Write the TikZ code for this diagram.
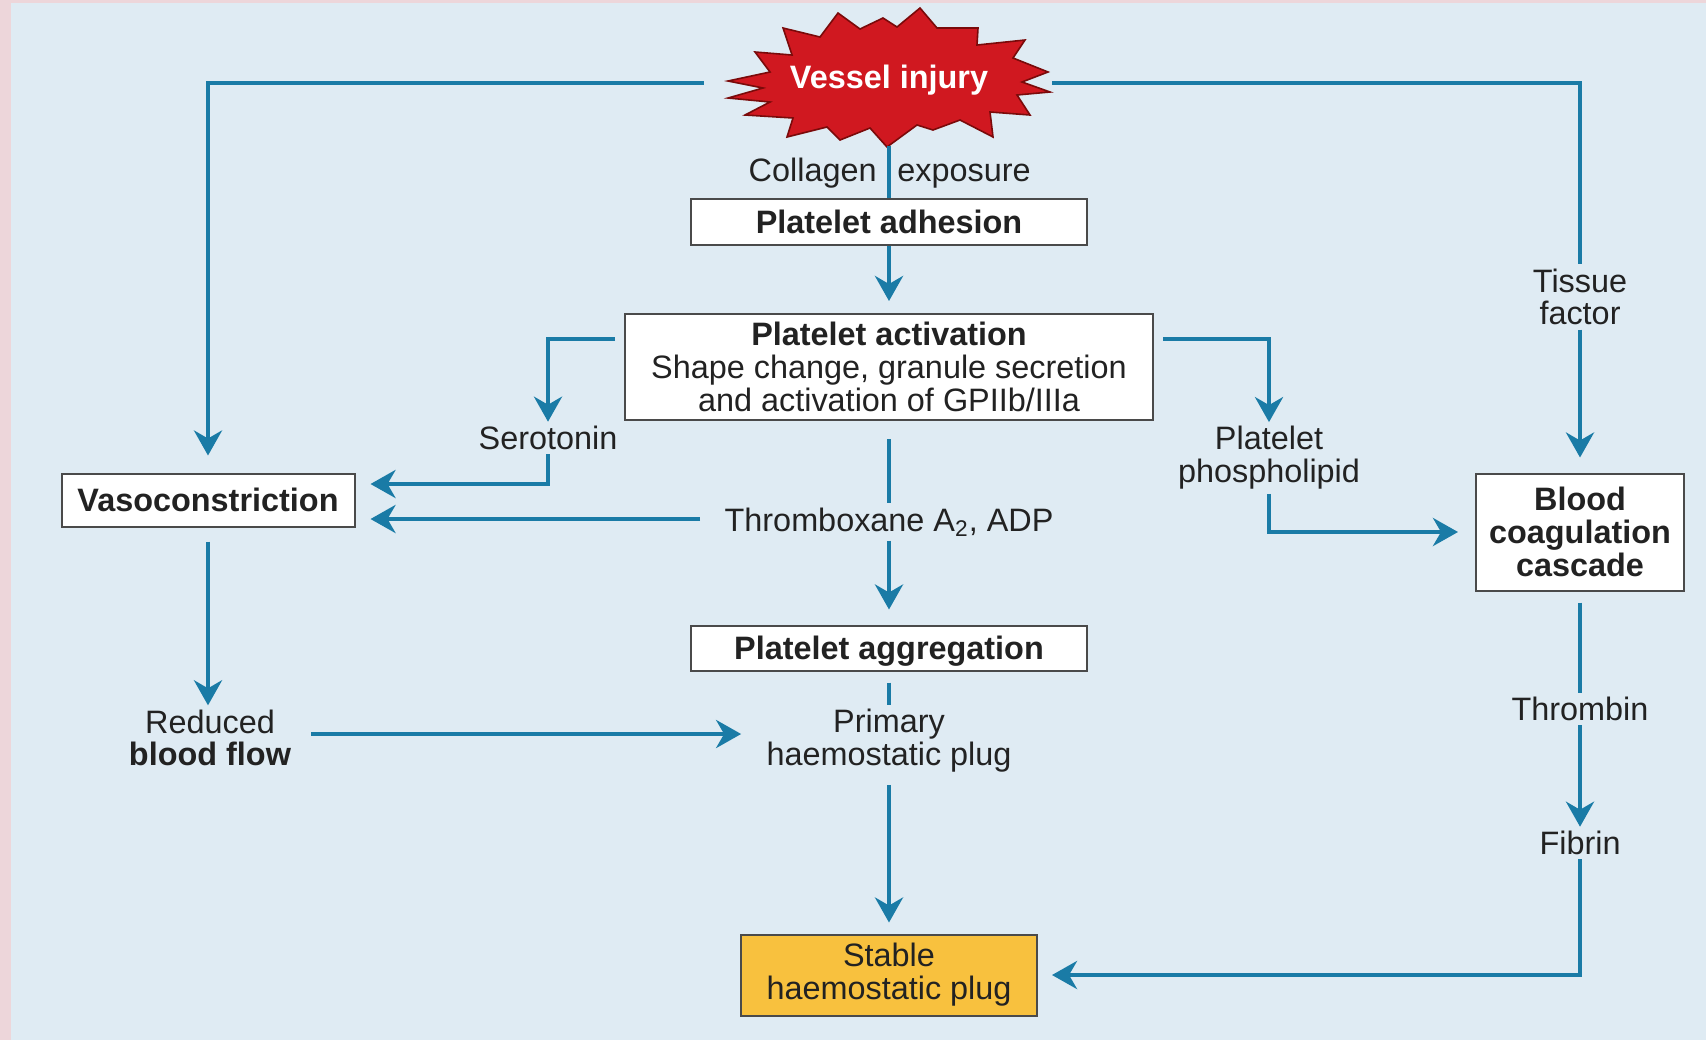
\documentclass[tikz,border=0pt]{standalone}
\usepackage{fontspec}
\setmainfont{Liberation Sans}
\usepackage{tikz}
\usetikzlibrary{arrows.meta}
\definecolor{flowblue}{HTML}{1A7BA6}
\definecolor{panelblue}{HTML}{DFEBF3}
\definecolor{edgepink}{HTML}{EDD6DA}
\definecolor{burstred}{HTML}{D01820}
\definecolor{burstdark}{HTML}{7A0A0A}
\definecolor{plugyellow}{HTML}{F8C13E}
\definecolor{inkgray}{HTML}{222222}
\definecolor{framegray}{HTML}{4A4A4A}

\begin{document}
\begin{tikzpicture} [
  x = 0.5pt, y = -0.5pt,
  every node/.style = { font = \fontsize{16.2}{16.4}\selectfont, text = inkgray, align = center },
  bold/.style = { font = \fontsize{16.2}{16.4}\selectfont\bfseries },
  stepbox/.style = { draw = framegray, line width = 1pt, fill = white, inner sep = 0 },
  tag/.style = { inner sep = 2pt },
  link/.style = { draw = flowblue, line width = 2.3pt },
  flow/.style = { link, -{Stealth[length = 12.5pt, width = 14pt, inset = 4pt]} }
  ]

  \fill [edgepink] (0,0) rectangle (1706,1040);
  \fill [panelblue] (11,3) rectangle (1706,1040);

  \filldraw [fill = burstred, draw = burstdark, line width = 0.8pt]
    (728,81) -- (770,72) -- (755,52) -- (792,55) -- (783,28) -- (820,37) -- (838,13) -- (860,29)
    -- (883,18) -- (897,27) -- (920,8) -- (937,28) -- (978,28) -- (977,45) -- (1025,40) -- (1013,58)
    -- (1048,72) -- (1022,82) -- (1050,92) -- (1017,95) -- (1030,115) -- (990,112) -- (993,137)
    -- (960,120) -- (933,130) -- (917,125) -- (887,147) -- (870,128) -- (840,140) -- (827,127)
    -- (787,137) -- (793,118) -- (745,115) -- (770,102) -- (728,98) -- (763,88) -- cycle;

  \node [bold, text = white, minimum width = 163pt, minimum height = 66pt, inner sep = 0] (injury) at (889,80) {Vessel injury};
  \node [tag, anchor = base east] (collagen) at (881,181) {Collagen};
  \node [tag, anchor = base west] (exposure) at (893,181) {exposure};
  \node [stepbox, bold, minimum width = 198pt, minimum height = 23pt] (adhesion) at (889,222) {Platelet adhesion};
  \node [stepbox, minimum width = 264pt, minimum height = 53pt] (activation) at (889,367) {\textbf{Platelet activation}\\Shape change, granule secretion\\and activation of GPIIb/IIIa};
  \node [tag] (serotonin) at (548,438) {Serotonin};
  \node [tag] (phospholipid) at (1269,458) {Platelet\\phospholipid};
  \node [tag] (tissue) at (1580,297) {Tissue\\factor};
  \node [stepbox, bold, minimum width = 146.5pt, minimum height = 26.5pt] (vaso) at (208,500) {Vasoconstriction};
  \node [stepbox, bold, minimum width = 104pt, minimum height = 58.5pt] (coag) at (1580,532) {Blood\\coagulation\\cascade};
  \node [tag] (thromboxane) at (889,522) {Thromboxane A\textsubscript{2}, ADP};
  \node [stepbox, bold, text depth = 0pt, minimum width = 198pt, minimum height = 22.5pt] (aggregation) at (889,648) {Platelet aggregation};
  \node [tag] (reduced) at (210,738) {Reduced\\\textbf{blood flow}};
  \node [tag] (primary) at (889,741) {Primary\\haemostatic plug};
  \node [tag] (thrombin) at (1580,709) {Thrombin};
  \node [tag] (fibrin) at (1580,843) {Fibrin};
  \node [stepbox, fill = plugyellow, minimum width = 148pt, minimum height = 40.5pt] (stable) at (889,975) {Stable\\haemostatic plug};

  \draw [link] (injury.south) -- (adhesion.north);
  \draw [flow, shorten > = 6pt] (adhesion.south) -- (activation.north);
  \draw [flow, shorten < = 11pt, shorten > = 8.5pt] ([yshift = -1.5pt]injury.west) -| (vaso.north);
  \draw [link] ([yshift = -1.5pt]injury.east) -| (tissue.north);
  \draw [flow, shorten > = 7.5pt] (tissue.south) -- (coag.north);
  \draw [flow] ([xshift = -4.5pt, yshift = -13pt]activation.north west) -| (serotonin.north);
  \draw [flow, shorten > = 7.5pt] (serotonin.south) |- ([yshift = 8pt]vaso.east);
  \draw [flow] ([xshift = 4.5pt, yshift = -13pt]activation.north east) -| (phospholipid.north);
  \draw [flow, shorten > = 8.5pt] (phospholipid.south) |- (coag.west);
  \draw [link, shorten < = 9pt] (activation.south) -- (thromboxane.north);
  \draw [flow, shorten > = 7.5pt] (thromboxane.south) -- (aggregation.north);
  \draw [flow, shorten < = 10pt, shorten > = 7.5pt] ([yshift = 1.5pt]thromboxane.west) -- ([yshift = 1.5pt]thromboxane.west -| vaso.east);
  \draw [flow, shorten < = 7pt] (vaso.south) -- (vaso.south |- reduced.north);
  \draw [flow, shorten < = 8pt, shorten > = 10.5pt] ([yshift = 2pt]reduced.east) -- ([yshift = 2pt]reduced.east -| primary.west);
  \draw [link, shorten < = 5.5pt] (aggregation.south) -- (primary.north);
  \draw [flow, shorten < = 4pt, shorten > = 5.5pt] (primary.south) -- (stable.north);
  \draw [link, shorten < = 5.5pt] (coag.south) -- (thrombin.north);
  \draw [flow] (thrombin.south) -- (fibrin.north);
  \draw [flow, shorten > = 7pt] (fibrin.south) |- (stable.east);
\end{tikzpicture}
\end{document}
